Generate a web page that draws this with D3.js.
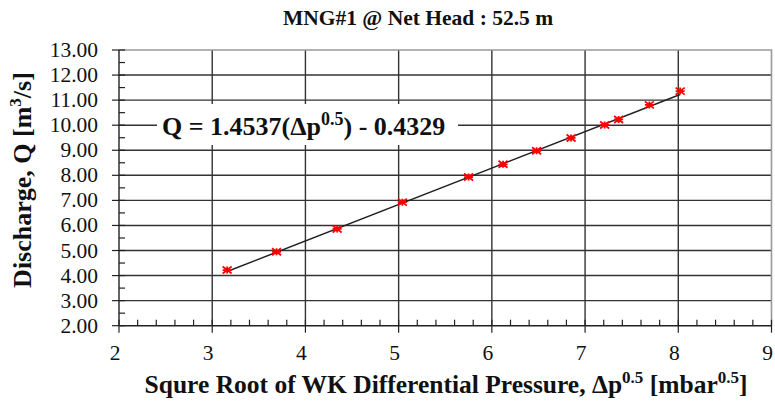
<!DOCTYPE html>
<html><head><meta charset="utf-8">
<script src="https://cdn.jsdelivr.net/npm/d3@7"></script>
<style>body{margin:0;background:#fff}svg{display:block}text{font-family:"Times New Roman","Liberation Serif",serif}</style>
</head><body>
<script>
const xValues = [3.16, 3.69, 4.34, 5.04, 5.75, 6.12, 6.48, 6.85, 7.21, 7.36, 7.69, 8.02];
const qValues = [4.22, 4.95, 5.86, 6.93, 7.93, 8.44, 8.98, 9.49, 10.01, 10.23, 10.81, 11.36];
const xTicks = [2, 3, 4, 5, 6, 7, 8, 9];
const yTicks = [2, 3, 4, 5, 6, 7, 8, 9, 10, 11, 12, 13];
const fitSlope = 1.4537, fitIntercept = -0.4329;

const W = 775, H = 405;
const svg = d3.select("body").append("svg").attr("width", W).attr("height", H);
const x = d3.scaleLinear().domain([2, 9]).range([119, 771.5]);
const y = d3.scaleLinear().domain([2, 13]).range([325.7, 50]);

const g = svg.append("g");
// gridlines
g.selectAll(".hg").data(yTicks.filter(v => v > 2 && v < 13)).join("line")
  .attr("x1", x(2)).attr("x2", x(9)).attr("y1", d => y(d)).attr("y2", d => y(d))
  .attr("stroke", "#333").attr("stroke-width", 1.4);
g.selectAll(".vg").data(xTicks.filter(v => v > 2 && v < 9)).join("line")
  .attr("y1", y(2)).attr("y2", y(13)).attr("x1", d => x(d)).attr("x2", d => x(d))
  .attr("stroke", "#333").attr("stroke-width", 1.4);
// border top/right
g.append("path").attr("d", `M${x(2)},${y(13)}H${x(9)}V${y(2)}`).attr("fill", "none")
  .attr("stroke", "#999").attr("stroke-width", 1.6);

// axes lines
g.append("line").attr("x1", x(2)).attr("x2", x(2)).attr("y1", y(2)).attr("y2", y(13)).attr("stroke", "#222").attr("stroke-width", 1.4);
g.append("line").attr("x1", x(2)).attr("x2", x(9)).attr("y1", y(2)).attr("y2", y(2)).attr("stroke", "#222").attr("stroke-width", 1.4);

// y ticks
const yMinor = d3.range(2.5, 13, 1);
g.selectAll(".ymn").data(yMinor).join("line").attr("x1", x(2)).attr("x2", x(2) + 6)
  .attr("y1", d => y(d)).attr("y2", d => y(d)).attr("stroke", "#222").attr("stroke-width", 1.2);
g.selectAll(".ymj").data(yTicks).join("line").attr("x1", x(2) - 7).attr("x2", x(2) + 6)
  .attr("y1", d => y(d)).attr("y2", d => y(d)).attr("stroke", "#222").attr("stroke-width", 1.2);
g.selectAll(".ytl").data(yTicks).join("text").attr("x", 98).attr("y", d => y(d) + 7)
  .attr("text-anchor", "end").attr("font-size", 21.5).attr("fill", "#111").text(d => d.toFixed(2));

// x ticks
const xMinor = d3.range(2, 9.001, 0.2).filter(v => Math.abs(v - Math.round(v)) > 0.01);
g.selectAll(".xmn").data(xMinor).join("line").attr("x1", d => x(d)).attr("x2", d => x(d))
  .attr("y1", y(2)).attr("y2", y(2) - 6).attr("stroke", "#222").attr("stroke-width", 1.2);
g.selectAll(".xmj").data(xTicks).join("line").attr("x1", d => x(d)).attr("x2", d => x(d))
  .attr("y1", y(2) - 6).attr("y2", y(2) + 7).attr("stroke", "#222").attr("stroke-width", 1.2);
g.selectAll(".xtl").data(xTicks).join("text").attr("x", d => x(d) - 4).attr("y", 360)
  .attr("text-anchor", "middle").attr("font-size", 21.5).attr("fill", "#111").text(d => d);

// trendline
const x0 = d3.min(xValues), x1 = d3.max(xValues);
g.append("line").attr("x1", x(x0)).attr("y1", y(fitSlope * x0 + fitIntercept))
  .attr("x2", x(x1)).attr("y2", y(fitSlope * x1 + fitIntercept))
  .attr("stroke", "#222").attr("stroke-width", 1.5);

// markers
const pts = xValues.map((v, i) => [v, qValues[i]]);
const sx = 4.5, sy = 3.5;
g.selectAll(".mk").data(pts).join("path")
  .attr("d", d => { const px = x(d[0]), py = y(d[1]);
    return `M${px - sx},${py - sy}L${px + sx},${py + sy}M${px - sx},${py + sy}L${px + sx},${py - sy}M${px - sx},${py}H${px + sx}M${px},${py - sy}V${py + sy}`; })
  .attr("stroke", "#ff0000").attr("stroke-width", 1.8).attr("fill", "none");

// equation label
g.append("rect").attr("x", 157).attr("y", 104).attr("width", 301).attr("height", 41).attr("fill", "#fff");
const eq = g.append("text").attr("x", 162).attr("y", 135).attr("font-size", 26).attr("font-weight", "bold").attr("fill", "#111");
eq.append("tspan").text("Q = 1.4537(Δp");
eq.append("tspan").attr("dy", -10).attr("font-size", 18).text("0.5");
eq.append("tspan").attr("dy", 10).text(")  - 0.4329");

// title
svg.append("text").attr("x", 418).attr("y", 25).attr("text-anchor", "middle").attr("font-size", 21.5)
  .attr("font-weight", "bold").attr("fill", "#111").text("MNG#1 @ Net Head : 52.5 m");

// x axis title
const xt = svg.append("text").attr("x", 446).attr("y", 393).attr("text-anchor", "middle").attr("font-size", 25.5)
  .attr("font-weight", "bold").attr("fill", "#111");
xt.append("tspan").text("Squre Root of WK Differential Pressure, Δp");
xt.append("tspan").attr("dy", -10).attr("font-size", 17).text("0.5");
xt.append("tspan").attr("dy", 10).text(" [mbar");
xt.append("tspan").attr("dy", -10).attr("font-size", 17).text("0.5");
xt.append("tspan").attr("dy", 10).text("]");

// y axis title
const yt = svg.append("text").attr("transform", "translate(31,180) rotate(-90)").attr("text-anchor", "middle")
  .attr("font-size", 26).attr("font-weight", "bold").attr("fill", "#111");
yt.append("tspan").text("Discharge, Q [m");
yt.append("tspan").attr("dy", -10).attr("font-size", 17).text("3");
yt.append("tspan").attr("dy", 10).text("/s]");
</script>
</body></html>
